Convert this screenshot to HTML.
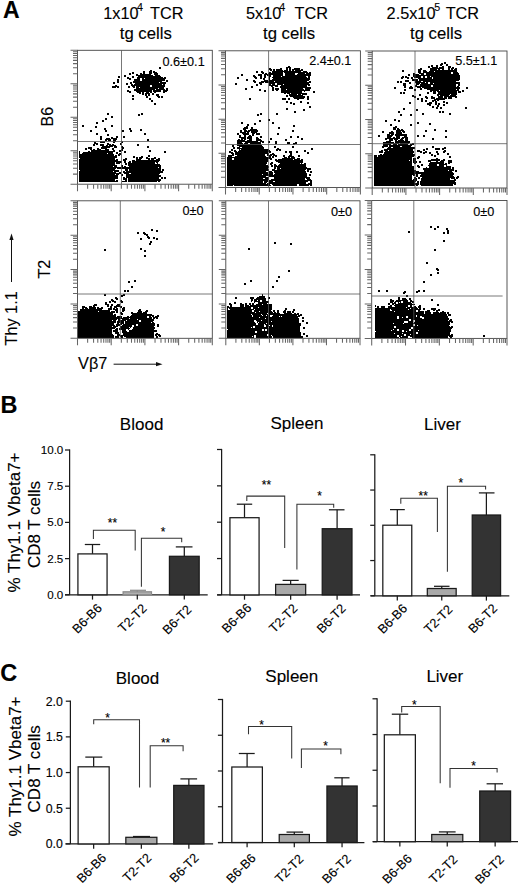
<!DOCTYPE html>
<html><head><meta charset="utf-8"><style>
html,body{margin:0;padding:0;background:#fff;width:520px;height:886px;overflow:hidden}
svg{display:block}
text{font-family:"Liberation Sans", sans-serif;stroke:#000;stroke-width:0.12px}
</style></head><body>
<svg width="520" height="886" viewBox="0 0 520 886">
<rect width="520" height="886" fill="#fff"/>
<text transform="translate(2.90,17.60)" font-size="23" text-anchor="start" font-weight="bold" fill="#000" >A</text>
<text transform="translate(103.18,18.90)" font-size="16.3" text-anchor="start" font-weight="normal" fill="#000" >1x10</text>
<text transform="translate(136.89,11.40)" font-size="10.7" text-anchor="start" font-weight="normal" fill="#000" >4</text>
<text transform="translate(150.07,18.90)" font-size="16.3" text-anchor="start" font-weight="normal" fill="#000" >TCR</text>
<text transform="translate(119.75,39.40)" font-size="16.3" text-anchor="start" font-weight="normal" fill="#000" textLength="52" lengthAdjust="spacingAndGlyphs">tg cells</text>
<text transform="translate(246.05,18.90)" font-size="16.3" text-anchor="start" font-weight="normal" fill="#000" >5x10</text>
<text transform="translate(279.19,11.40)" font-size="10.7" text-anchor="start" font-weight="normal" fill="#000" >4</text>
<text transform="translate(294.47,18.90)" font-size="16.3" text-anchor="start" font-weight="normal" fill="#000" >TCR</text>
<text transform="translate(263.00,39.40)" font-size="16.3" text-anchor="start" font-weight="normal" fill="#000" textLength="52" lengthAdjust="spacingAndGlyphs">tg cells</text>
<text transform="translate(386.58,18.90)" font-size="16.3" text-anchor="start" font-weight="normal" fill="#000" >2.5x10</text>
<text transform="translate(434.17,11.40)" font-size="10.7" text-anchor="start" font-weight="normal" fill="#000" >5</text>
<text transform="translate(445.67,18.90)" font-size="16.3" text-anchor="start" font-weight="normal" fill="#000" >TCR</text>
<text transform="translate(410.00,39.40)" font-size="16.3" text-anchor="start" font-weight="normal" fill="#000" textLength="52" lengthAdjust="spacingAndGlyphs">tg cells</text>
<text transform="translate(53.40,116.70) rotate(-90)" font-size="15.9" text-anchor="middle" font-weight="normal" fill="#000" >B6</text>
<text transform="translate(49.60,269.10) rotate(-90)" font-size="16.3" text-anchor="middle" font-weight="normal" fill="#000" >T2</text>
<text transform="translate(17.00,318.40) rotate(-90)" font-size="16.3" text-anchor="middle" font-weight="normal" fill="#000" >Thy 1.1</text>
<line x1="11.50" y1="282.00" x2="11.50" y2="239.00" stroke="#111" stroke-width="1.0"/>
<path d="M11.5,233.6 L9.4,240 L13.6,240 Z" fill="#111"/>
<text transform="translate(78.10,368.50)" font-size="16.3" text-anchor="start" font-weight="normal" fill="#000" >V&#946;7</text>
<line x1="113.60" y1="364.20" x2="157.00" y2="364.20" stroke="#111" stroke-width="1.0"/>
<path d="M162.5,364.2 L156,362.1 L156,366.3 Z" fill="#111"/>
<path d="M159 67h2v2h-2zM150 70h2v1h-2zM153 71h2v1h-2zM153 72h4v1h-4zM132 72h2v2h-2zM140 73h2v1h-2zM143 71h2v3h-2zM149 71h3v3h-3zM129 73h2v2h-2zM136 74h2v1h-2zM140 74h11v1h-11zM154 73h4v2h-4zM136 75h17v1h-17zM155 75h5v1h-5zM124 75h2v2h-2zM138 76h23v1h-23zM118 76h2v2h-2zM127 77h2v1h-2zM132 76h2v2h-2zM137 77h26v1h-26zM164 77h2v1h-2zM127 78h4v1h-4zM137 78h3v1h-3zM142 78h2v1h-2zM145 78h21v1h-21zM129 79h2v1h-2zM134 79h6v2h-6zM142 79h23v2h-23zM133 81h29v1h-29zM166 80h2v2h-2zM117 79h2v4h-2zM133 82h26v1h-26zM160 82h6v1h-6zM113 82h2v2h-2zM130 82h2v2h-2zM135 83h31v1h-31zM126 83h2v2h-2zM131 84h2v1h-2zM134 84h28v1h-28zM163 84h2v1h-2zM115 85h2v1h-2zM131 85h19v1h-19zM112 86h7v1h-7zM132 86h3v1h-3zM136 86h14v1h-14zM152 85h13v2h-13zM112 87h4v1h-4zM117 87h2v1h-2zM128 86h2v2h-2zM133 87h2v1h-2zM136 87h3v1h-3zM140 87h24v1h-24zM136 88h22v1h-22zM159 88h5v1h-5zM134 89h21v1h-21zM156 89h9v1h-9zM166 88h2v2h-2zM127 90h2v1h-2zM134 90h18v1h-18zM163 90h5v1h-5zM127 91h4v1h-4zM136 91h16v1h-16zM153 90h8v2h-8zM163 91h4v1h-4zM129 92h2v1h-2zM137 92h4v1h-4zM146 92h3v1h-3zM150 92h2v1h-2zM154 92h2v1h-2zM163 92h2v1h-2zM139 93h2v1h-2zM145 93h5v1h-5zM142 92h2v3h-2zM152 93h2v2h-2zM145 94h2v2h-2zM148 94h2v2h-2zM156 94h3v2h-3zM132 95h2v2h-2zM157 96h3v1h-3zM146 96h2v2h-2zM158 97h2v1h-2zM161 96h2v2h-2zM132 98h2v2h-2zM149 98h2v2h-2zM151 100h2v2h-2zM154 103h2v2h-2zM107 113h2v2h-2zM141 113h2v2h-2zM138 114h2v2h-2zM111 116h2v2h-2zM105 118h2v2h-2zM102 120h2v2h-2zM96 122h2v2h-2zM82 125h2v2h-2zM111 125h2v2h-2zM95 126h2v2h-2zM104 128h2v2h-2zM129 128h2v2h-2zM140 129h2v2h-2zM90 130h2v2h-2zM105 130h2v2h-2zM122 130h2v2h-2zM130 130h2v2h-2zM96 133h2v2h-2zM144 133h2v2h-2zM107 134h2v2h-2zM111 137h2v1h-2zM116 136h2v2h-2zM123 136h2v2h-2zM106 138h4v1h-4zM111 138h6v1h-6zM100 136h2v4h-2zM105 139h6v1h-6zM113 139h4v1h-4zM105 140h2v1h-2zM108 140h3v1h-3zM147 139h2v2h-2zM113 140h3v2h-3zM94 142h2v1h-2zM100 141h5v2h-5zM113 142h2v1h-2zM121 141h2v2h-2zM94 143h4v1h-4zM107 143h2v1h-2zM96 144h2v1h-2zM107 144h4v1h-4zM112 144h2v1h-2zM120 143h2v2h-2zM93 144h2v2h-2zM100 144h4v2h-4zM106 145h2v1h-2zM109 145h7v1h-7zM137 144h2v2h-2zM102 146h11v1h-11zM121 146h2v1h-2zM101 147h9v1h-9zM114 146h3v2h-3zM121 147h3v1h-3zM147 146h2v2h-2zM88 147h4v2h-4zM97 148h2v1h-2zM101 148h6v1h-6zM122 148h2v1h-2zM85 148h2v2h-2zM90 149h2v1h-2zM93 149h2v1h-2zM97 149h4v1h-4zM105 149h4v1h-4zM112 148h2v2h-2zM121 149h2v1h-2zM91 150h18v1h-18zM113 150h2v1h-2zM119 150h4v1h-4zM88 151h2v1h-2zM91 151h24v1h-24zM119 151h2v1h-2zM149 150h2v2h-2zM83 152h30v1h-30zM124 151h2v2h-2zM164 151h2v2h-2zM79 151h1v3h-1zM82 153h25v1h-25zM108 153h5v1h-5zM116 152h2v2h-2zM119 153h2v1h-2zM118 154h3v1h-3zM79 154h35v2h-35zM115 155h2v1h-2zM118 155h2v1h-2zM141 156h2v1h-2zM148 155h2v2h-2zM79 156h38v2h-38zM133 156h2v2h-2zM139 157h4v1h-4zM146 157h2v1h-2zM154 157h2v1h-2zM80 158h35v1h-35zM125 158h2v1h-2zM136 157h2v2h-2zM139 158h3v1h-3zM146 158h4v1h-4zM151 158h5v1h-5zM158 158h2v1h-2zM79 159h36v1h-36zM116 159h2v1h-2zM123 159h4v1h-4zM136 159h5v1h-5zM148 159h2v1h-2zM151 159h3v1h-3zM156 159h4v1h-4zM79 160h39v1h-39zM123 160h3v1h-3zM132 160h3v1h-3zM136 160h24v1h-24zM79 161h43v1h-43zM129 161h2v1h-2zM132 161h27v1h-27zM116 162h6v1h-6zM124 161h2v2h-2zM128 162h3v1h-3zM132 162h23v1h-23zM156 162h2v1h-2zM116 163h4v1h-4zM128 163h27v1h-27zM157 163h1v1h-1zM79 162h36v3h-36zM125 163h2v2h-2zM128 164h32v1h-32zM79 165h38v1h-38zM128 165h33v1h-33zM79 166h34v1h-34zM114 166h3v1h-3zM121 165h2v2h-2zM124 166h2v1h-2zM129 166h32v1h-32zM79 167h79v1h-79zM159 167h2v1h-2zM79 168h37v1h-37zM117 168h44v1h-44zM79 169h36v1h-36zM80 170h39v1h-39zM125 169h3v2h-3zM129 169h32v2h-32zM162 169h2v2h-2zM79 171h34v1h-34zM114 171h5v1h-5zM123 171h2v1h-2zM126 171h37v1h-37zM79 172h37v1h-37zM119 172h2v1h-2zM123 172h40v1h-40zM79 173h42v1h-42zM124 173h5v1h-5zM131 173h29v1h-29zM79 174h36v1h-36zM116 174h3v1h-3zM126 174h33v1h-33zM121 174h2v2h-2zM126 175h35v2h-35zM123 177h2v1h-2zM126 177h33v1h-33zM79 175h39v4h-39zM128 178h31v1h-31zM161 177h2v2h-2zM164 177h2v2h-2zM123 178h4v2h-4zM79 179h36v2h-36zM116 180h2v1h-2zM125 180h2v1h-2zM128 179h33v2h-33zM79 181h39v1h-39zM122 181h5v1h-5zM128 181h29v1h-29zM158 181h2v1h-2z" fill="#000"/>
<rect x="77.50" y="50.30" width="134.80" height="133.90" fill="none" stroke="#444" stroke-width="0.9"/>
<path d="M70.50,184.20H77.50M73.00,174.12H77.50M73.00,168.23H77.50M73.00,164.05H77.50M73.00,160.80H77.50M73.00,158.15H77.50M73.00,155.91H77.50M73.00,153.97H77.50M73.00,152.26H77.50M70.50,150.72H77.50M73.00,140.65H77.50M73.00,134.75H77.50M73.00,130.57H77.50M73.00,127.33H77.50M73.00,124.68H77.50M73.00,122.44H77.50M73.00,120.49H77.50M73.00,118.78H77.50M70.50,117.25H77.50M73.00,107.17H77.50M73.00,101.28H77.50M73.00,97.10H77.50M73.00,93.85H77.50M73.00,91.20H77.50M73.00,88.96H77.50M73.00,87.02H77.50M73.00,85.31H77.50M70.50,83.78H77.50M73.00,73.70H77.50M73.00,67.80H77.50M73.00,63.62H77.50M73.00,60.38H77.50M73.00,57.73H77.50M73.00,55.49H77.50M73.00,53.54H77.50M73.00,51.83H77.50M70.50,50.30H77.50M77.50,184.20V191.20M87.64,184.20V188.70M93.58,184.20V188.70M97.79,184.20V188.70M101.06,184.20V188.70M103.72,184.20V188.70M105.98,184.20V188.70M107.93,184.20V188.70M109.66,184.20V188.70M111.20,184.20V191.20M121.34,184.20V188.70M127.28,184.20V188.70M131.49,184.20V188.70M134.76,184.20V188.70M137.42,184.20V188.70M139.68,184.20V188.70M141.63,184.20V188.70M143.36,184.20V188.70M144.90,184.20V191.20M155.04,184.20V188.70M160.98,184.20V188.70M165.19,184.20V188.70M168.46,184.20V188.70M171.12,184.20V188.70M173.38,184.20V188.70M175.33,184.20V188.70M177.06,184.20V188.70M178.60,184.20V191.20M188.74,184.20V188.70M194.68,184.20V188.70M198.89,184.20V188.70M202.16,184.20V188.70M204.82,184.20V188.70M207.08,184.20V188.70M209.03,184.20V188.70M210.76,184.20V188.70M212.30,184.20V191.20" stroke="#666" stroke-width="1.05" fill="none"/>
<line x1="121.50" y1="50.30" x2="121.50" y2="184.20" stroke="#555" stroke-width="0.8"/>
<line x1="77.50" y1="141.50" x2="212.30" y2="141.50" stroke="#555" stroke-width="0.8"/>
<text transform="translate(204.71,65.50)" font-size="12.7" text-anchor="end" font-weight="normal" fill="#000" >0.6&#177;0.1</text>
<path d="M288 66h2v1h-2zM286 67h5v1h-5zM269 68h2v1h-2zM280 68h2v1h-2zM294 68h6v1h-6zM269 69h3v1h-3zM276 69h6v1h-6zM286 68h2v2h-2zM292 69h8v1h-8zM301 69h2v1h-2zM270 70h2v1h-2zM273 69h2v2h-2zM276 70h7v1h-7zM284 70h4v1h-4zM289 68h2v3h-2zM292 70h2v1h-2zM295 70h8v1h-8zM261 71h2v1h-2zM272 71h29v1h-29zM303 71h4v1h-4zM256 71h2v2h-2zM261 72h3v1h-3zM269 72h2v1h-2zM272 72h11v1h-11zM284 72h24v1h-24zM309 72h2v1h-2zM262 73h2v1h-2zM265 73h2v1h-2zM268 73h15v1h-15zM298 73h7v1h-7zM306 73h5v1h-5zM264 74h19v1h-19zM285 73h10v2h-10zM297 74h14v1h-14zM241 74h2v2h-2zM253 75h2v1h-2zM258 74h4v2h-4zM267 75h4v1h-4zM273 75h10v1h-10zM285 75h26v1h-26zM253 76h3v1h-3zM269 76h2v1h-2zM273 76h8v1h-8zM282 76h24v1h-24zM254 77h3v1h-3zM264 75h2v3h-2zM272 77h35v1h-35zM308 76h2v2h-2zM237 77h2v2h-2zM255 78h2v1h-2zM260 76h2v3h-2zM273 78h37v1h-37zM263 78h2v2h-2zM269 77h1v3h-1zM272 79h38v1h-38zM246 79h2v2h-2zM253 80h2v1h-2zM264 80h4v1h-4zM269 80h40v1h-40zM253 81h3v1h-3zM261 81h13v1h-13zM275 81h32v1h-32zM309 81h2v1h-2zM254 82h2v1h-2zM259 82h5v1h-5zM265 82h46v1h-46zM259 83h3v1h-3zM269 83h6v1h-6zM277 83h32v1h-32zM235 83h2v2h-2zM260 84h2v1h-2zM269 84h2v1h-2zM272 84h3v1h-3zM277 84h6v1h-6zM284 84h26v1h-26zM256 84h2v2h-2zM269 85h9v1h-9zM281 85h26v1h-26zM308 85h2v1h-2zM271 86h2v1h-2zM275 86h3v1h-3zM280 86h27v1h-27zM251 86h2v2h-2zM280 87h31v1h-31zM281 88h22v1h-22zM305 88h6v1h-6zM245 88h2v2h-2zM275 88h4v2h-4zM281 89h5v1h-5zM287 89h17v1h-17zM305 89h5v1h-5zM259 89h2v2h-2zM272 87h2v4h-2zM276 90h2v1h-2zM281 90h29v1h-29zM264 90h2v2h-2zM304 91h1v1h-1zM281 91h21v2h-21zM313 91h2v2h-2zM284 93h2v1h-2zM287 93h3v1h-3zM291 93h16v1h-16zM289 94h8v1h-8zM298 94h3v1h-3zM302 94h5v1h-5zM289 95h14v1h-14zM286 95h2v2h-2zM290 96h15v1h-15zM293 97h12v1h-12zM294 98h10v1h-10zM249 98h2v2h-2zM282 98h4v2h-4zM288 98h2v2h-2zM297 99h2v1h-2zM307 96h2v4h-2zM286 101h2v2h-2zM300 101h2v2h-2zM290 102h2v2h-2zM307 102h2v2h-2zM293 103h2v2h-2zM309 106h2v2h-2zM286 108h2v2h-2zM303 109h2v2h-2zM294 111h2v2h-2zM260 113h2v2h-2zM276 113h2v2h-2zM257 114h2v2h-2zM268 119h2v2h-2zM259 120h2v2h-2zM241 122h2v2h-2zM272 122h2v2h-2zM254 123h2v2h-2zM247 124h2v2h-2zM246 126h2v1h-2zM293 125h2v2h-2zM244 127h4v1h-4zM243 128h5v1h-5zM251 127h2v2h-2zM278 127h2v2h-2zM243 129h3v1h-3zM250 129h7v1h-7zM244 130h3v1h-3zM248 130h10v1h-10zM240 130h2v2h-2zM244 131h6v1h-6zM251 131h7v1h-7zM292 130h2v2h-2zM240 132h6v1h-6zM247 132h2v1h-2zM251 132h6v1h-6zM242 133h7v1h-7zM252 133h3v1h-3zM237 133h2v2h-2zM243 134h6v1h-6zM256 133h4v2h-4zM277 133h2v2h-2zM249 135h2v1h-2zM252 134h2v2h-2zM239 135h2v2h-2zM244 135h2v2h-2zM248 136h4v1h-4zM239 137h7v1h-7zM256 137h2v1h-2zM260 136h2v2h-2zM290 136h2v2h-2zM297 136h2v2h-2zM241 138h5v1h-5zM247 137h5v2h-5zM256 138h3v1h-3zM238 139h2v1h-2zM241 139h2v1h-2zM244 139h2v1h-2zM249 139h3v1h-3zM256 139h5v1h-5zM270 138h2v2h-2zM301 138h2v2h-2zM237 140h8v1h-8zM247 140h5v1h-5zM256 140h6v1h-6zM285 139h2v2h-2zM237 141h21v1h-21zM260 141h4v1h-4zM237 142h5v1h-5zM245 142h16v1h-16zM262 142h2v1h-2zM268 141h2v2h-2zM295 142h2v1h-2zM237 143h6v1h-6zM244 143h4v1h-4zM250 143h11v1h-11zM275 141h2v3h-2zM287 142h3v2h-3zM293 143h4v1h-4zM237 144h24v1h-24zM293 144h2v1h-2zM237 145h25v1h-25zM232 145h2v2h-2zM239 146h24v1h-24zM237 147h3v1h-3zM242 147h22v1h-22zM274 146h2v2h-2zM292 146h2v2h-2zM233 147h2v2h-2zM237 148h27v1h-27zM277 148h2v1h-2zM239 149h1v1h-1zM241 149h28v1h-28zM276 149h5v1h-5zM311 148h2v2h-2zM231 149h2v2h-2zM234 150h2v1h-2zM239 150h31v1h-31zM276 150h2v1h-2zM279 150h2v1h-2zM229 151h2v1h-2zM234 151h3v1h-3zM238 151h33v1h-33zM304 150h2v2h-2zM229 152h4v1h-4zM235 152h33v1h-33zM269 152h2v1h-2zM285 151h2v2h-2zM289 151h3v2h-3zM296 151h2v2h-2zM231 153h3v1h-3zM235 153h34v1h-34zM272 153h2v1h-2zM307 152h2v2h-2zM232 154h2v1h-2zM235 154h30v1h-30zM267 154h2v1h-2zM270 154h5v1h-5zM290 153h2v2h-2zM228 155h6v1h-6zM237 155h28v1h-28zM267 155h5v1h-5zM273 155h4v1h-4zM289 155h3v1h-3zM228 156h4v1h-4zM235 156h31v1h-31zM269 156h2v1h-2zM275 156h2v1h-2zM283 155h2v2h-2zM288 156h6v1h-6zM298 155h2v2h-2zM227 157h44v1h-44zM272 156h2v2h-2zM284 157h3v1h-3zM288 157h2v1h-2zM291 157h4v1h-4zM234 158h38v1h-38zM282 158h13v1h-13zM297 158h3v1h-3zM227 158h5v2h-5zM234 159h34v1h-34zM270 159h2v1h-2zM275 159h2v1h-2zM278 159h15v1h-15zM294 159h6v1h-6zM301 159h2v1h-2zM275 160h28v1h-28zM227 160h41v2h-41zM276 161h27v1h-27zM271 162h2v1h-2zM278 162h25v1h-25zM227 162h40v2h-40zM270 163h3v1h-3zM280 163h20v1h-20zM301 163h1v1h-1zM304 163h2v1h-2zM227 164h39v1h-39zM270 164h2v1h-2zM274 164h2v1h-2zM279 164h27v1h-27zM227 165h41v1h-41zM274 165h3v1h-3zM278 165h28v1h-28zM271 165h2v2h-2zM274 166h32v1h-32zM227 166h42v2h-42zM277 167h30v1h-30zM227 168h41v1h-41zM274 167h2v2h-2zM277 168h3v1h-3zM281 168h30v1h-30zM272 169h3v1h-3zM277 169h29v1h-29zM307 169h4v1h-4zM227 169h42v2h-42zM272 170h33v1h-33zM227 171h39v1h-39zM269 171h3v1h-3zM307 170h2v2h-2zM274 171h32v2h-32zM310 171h2v2h-2zM227 172h41v2h-41zM269 172h4v2h-4zM275 173h32v1h-32zM227 174h35v1h-35zM263 174h10v1h-10zM274 174h33v1h-33zM227 175h80v1h-80zM309 174h2v2h-2zM227 176h39v1h-39zM269 176h38v1h-38zM227 177h42v1h-42zM274 177h36v1h-36zM227 178h36v1h-36zM265 178h4v1h-4zM274 178h31v1h-31zM306 178h4v1h-4zM227 179h42v1h-42zM271 179h34v1h-34zM307 179h4v1h-4zM227 180h41v1h-41zM269 180h43v1h-43zM264 181h4v1h-4zM269 181h4v1h-4zM275 181h33v1h-33zM227 181h36v2h-36zM264 182h3v1h-3zM269 182h37v1h-37zM310 181h2v2h-2zM227 183h39v1h-39zM267 183h39v1h-39zM308 183h4v1h-4zM227 184h43v1h-43zM272 184h25v1h-25zM299 184h13v1h-13zM227 185h6v1h-6zM234 185h37v1h-37zM273 185h24v1h-24zM299 185h10v1h-10zM310 185h2v1h-2z" fill="#000"/>
<rect x="225.50" y="50.80" width="134.90" height="136.70" fill="none" stroke="#444" stroke-width="0.9"/>
<path d="M218.50,187.50H225.50M221.00,177.21H225.50M221.00,171.19H225.50M221.00,166.92H225.50M221.00,163.61H225.50M221.00,160.91H225.50M221.00,158.62H225.50M221.00,156.64H225.50M221.00,154.89H225.50M218.50,153.32H225.50M221.00,143.04H225.50M221.00,137.02H225.50M221.00,132.75H225.50M221.00,129.44H225.50M221.00,126.73H225.50M221.00,124.44H225.50M221.00,122.46H225.50M221.00,120.71H225.50M218.50,119.15H225.50M221.00,108.86H225.50M221.00,102.84H225.50M221.00,98.57H225.50M221.00,95.26H225.50M221.00,92.56H225.50M221.00,90.27H225.50M221.00,88.29H225.50M221.00,86.54H225.50M218.50,84.98H225.50M221.00,74.69H225.50M221.00,68.67H225.50M221.00,64.40H225.50M221.00,61.09H225.50M221.00,58.38H225.50M221.00,56.09H225.50M221.00,54.11H225.50M221.00,52.36H225.50M218.50,50.80H225.50M225.50,187.50V194.50M235.65,187.50V192.00M241.59,187.50V192.00M245.80,187.50V192.00M249.07,187.50V192.00M251.74,187.50V192.00M254.00,187.50V192.00M255.96,187.50V192.00M257.68,187.50V192.00M259.23,187.50V194.50M269.38,187.50V192.00M275.32,187.50V192.00M279.53,187.50V192.00M282.80,187.50V192.00M285.47,187.50V192.00M287.73,187.50V192.00M289.68,187.50V192.00M291.41,187.50V192.00M292.95,187.50V194.50M303.10,187.50V192.00M309.04,187.50V192.00M313.25,187.50V192.00M316.52,187.50V192.00M319.19,187.50V192.00M321.45,187.50V192.00M323.41,187.50V192.00M325.13,187.50V192.00M326.67,187.50V194.50M336.83,187.50V192.00M342.77,187.50V192.00M346.98,187.50V192.00M350.25,187.50V192.00M352.92,187.50V192.00M355.18,187.50V192.00M357.13,187.50V192.00M358.86,187.50V192.00M360.40,187.50V194.50" stroke="#666" stroke-width="1.05" fill="none"/>
<line x1="268.60" y1="50.80" x2="268.60" y2="187.50" stroke="#555" stroke-width="0.8"/>
<line x1="225.50" y1="144.50" x2="360.40" y2="144.50" stroke="#555" stroke-width="0.8"/>
<text transform="translate(351.41,65.20)" font-size="12.7" text-anchor="end" font-weight="normal" fill="#000" >2.4&#177;0.1</text>
<path d="M441 63h2v1h-2zM444 62h2v2h-2zM440 64h3v1h-3zM440 65h2v1h-2zM446 64h2v2h-2zM431 65h2v2h-2zM436 65h2v2h-2zM442 66h2v1h-2zM428 66h2v2h-2zM432 67h6v1h-6zM439 67h5v1h-5zM448 66h3v2h-3zM452 67h2v1h-2zM420 68h2v1h-2zM430 68h14v1h-14zM451 68h3v1h-3zM455 68h2v1h-2zM418 69h4v1h-4zM430 69h7v1h-7zM438 69h2v1h-2zM442 69h2v1h-2zM448 68h2v2h-2zM451 69h2v1h-2zM454 69h3v1h-3zM423 70h3v1h-3zM430 70h27v1h-27zM402 70h2v2h-2zM423 71h4v1h-4zM429 71h5v1h-5zM435 71h22v1h-22zM418 70h3v3h-3zM423 72h28v1h-28zM453 72h5v1h-5zM413 73h2v1h-2zM419 73h5v1h-5zM426 73h25v1h-25zM453 73h6v1h-6zM413 74h6v1h-6zM421 74h3v1h-3zM426 74h33v1h-33zM408 74h2v2h-2zM413 75h47v1h-47zM402 76h2v1h-2zM405 76h2v1h-2zM413 76h8v1h-8zM427 76h3v1h-3zM431 76h29v1h-29zM401 77h3v1h-3zM405 77h4v1h-4zM414 77h7v1h-7zM423 76h2v2h-2zM427 77h5v1h-5zM401 78h2v1h-2zM407 78h2v1h-2zM411 77h2v2h-2zM418 78h14v1h-14zM433 77h27v2h-27zM419 79h41v1h-41zM412 79h6v2h-6zM419 80h40v1h-40zM405 80h4v2h-4zM415 81h6v1h-6zM423 81h33v1h-33zM397 81h2v2h-2zM400 81h2v2h-2zM415 82h10v1h-10zM426 82h2v1h-2zM430 82h30v1h-30zM409 82h2v2h-2zM416 83h4v1h-4zM421 83h7v1h-7zM430 83h3v1h-3zM434 83h26v1h-26zM416 84h3v1h-3zM420 84h36v1h-36zM403 83h3v3h-3zM415 85h2v1h-2zM420 85h11v1h-11zM458 84h2v2h-2zM410 86h2v1h-2zM415 86h16v1h-16zM433 85h23v2h-23zM457 86h2v1h-2zM404 86h2v2h-2zM417 87h4v1h-4zM422 87h38v1h-38zM394 87h2v2h-2zM409 87h4v2h-4zM424 88h36v1h-36zM466 87h2v2h-2zM420 88h2v2h-2zM427 89h29v1h-29zM457 89h2v1h-2zM404 89h2v2h-2zM414 89h2v2h-2zM430 90h9v1h-9zM440 90h19v1h-19zM430 91h2v1h-2zM437 91h20v1h-20zM462 90h2v2h-2zM458 91h3v2h-3zM400 92h2v2h-2zM403 92h2v2h-2zM427 92h2v2h-2zM433 91h3v3h-3zM438 92h19v2h-19zM437 94h13v1h-13zM451 94h6v1h-6zM412 95h2v1h-2zM419 94h2v2h-2zM437 95h2v1h-2zM440 95h9v1h-9zM450 95h6v1h-6zM412 96h4v1h-4zM425 96h2v1h-2zM431 96h2v1h-2zM444 96h13v1h-13zM414 97h2v1h-2zM425 97h3v1h-3zM438 96h5v2h-5zM444 97h3v1h-3zM455 97h2v1h-2zM426 98h2v1h-2zM431 97h4v2h-4zM436 98h11v1h-11zM448 97h4v2h-4zM417 98h2v2h-2zM434 99h11v1h-11zM432 100h4v1h-4zM437 100h2v1h-2zM421 98h2v4h-2zM425 100h2v2h-2zM432 101h2v1h-2zM429 102h3v1h-3zM443 101h2v2h-2zM409 102h2v2h-2zM427 103h5v1h-5zM446 102h2v2h-2zM427 104h4v1h-4zM435 101h2v4h-2zM438 103h2v2h-2zM429 105h2v1h-2zM443 104h2v2h-2zM437 105h2v2h-2zM432 106h2v2h-2zM436 107h2v2h-2zM440 107h2v2h-2zM465 107h2v2h-2zM403 108h2v2h-2zM416 109h2v2h-2zM398 111h2v2h-2zM439 111h2v2h-2zM442 111h2v2h-2zM422 113h2v2h-2zM449 113h2v2h-2zM400 114h2v2h-2zM410 114h2v2h-2zM394 119h2v2h-2zM385 120h2v2h-2zM398 120h2v2h-2zM417 122h2v2h-2zM429 123h2v2h-2zM390 124h2v2h-2zM410 124h2v2h-2zM395 126h2v1h-2zM393 127h4v1h-4zM397 128h2v1h-2zM393 128h3v2h-3zM397 129h3v1h-3zM401 129h2v1h-2zM396 130h8v1h-8zM434 129h2v2h-2zM391 131h2v1h-2zM396 131h5v1h-5zM402 131h3v1h-3zM425 130h2v2h-2zM445 130h2v2h-2zM382 131h2v2h-2zM403 132h2v1h-2zM389 132h5v2h-5zM396 132h6v2h-6zM387 134h3v1h-3zM391 134h3v1h-3zM387 135h6v1h-6zM395 134h12v2h-12zM378 135h2v2h-2zM387 136h5v1h-5zM404 136h3v1h-3zM417 135h2v2h-2zM423 135h2v2h-2zM387 137h4v1h-4zM393 137h2v1h-2zM396 136h4v2h-4zM402 137h6v1h-6zM445 136h2v2h-2zM385 138h15v1h-15zM401 138h3v1h-3zM385 139h2v1h-2zM394 139h4v1h-4zM400 139h3v1h-3zM432 138h2v2h-2zM389 139h4v2h-4zM395 140h2v1h-2zM398 140h6v1h-6zM405 138h3v3h-3zM386 141h5v1h-5zM383 142h11v1h-11zM395 141h15v2h-15zM383 143h16v1h-16zM400 143h9v1h-9zM412 143h2v1h-2zM383 144h8v1h-8zM393 144h4v1h-4zM398 144h10v1h-10zM410 144h4v1h-4zM383 145h5v1h-5zM389 145h23v1h-23zM382 146h6v1h-6zM389 146h11v1h-11zM402 146h9v1h-9zM382 147h2v1h-2zM388 147h3v1h-3zM393 147h22v1h-22zM432 146h2v2h-2zM444 147h2v1h-2zM387 148h28v1h-28zM442 148h4v1h-4zM384 149h29v1h-29zM426 148h2v2h-2zM435 148h5v2h-5zM442 149h2v1h-2zM381 150h2v1h-2zM384 150h4v1h-4zM389 150h24v1h-24zM417 150h3v1h-3zM423 149h2v2h-2zM444 150h2v1h-2zM385 151h29v1h-29zM417 151h5v1h-5zM425 151h2v1h-2zM443 151h3v1h-3zM379 151h4v2h-4zM384 152h30v1h-30zM420 152h2v1h-2zM423 152h4v1h-4zM436 151h2v2h-2zM443 152h2v1h-2zM384 153h29v1h-29zM423 153h2v1h-2zM429 152h2v2h-2zM380 154h2v1h-2zM383 154h32v1h-32zM437 153h2v2h-2zM447 153h2v2h-2zM378 155h37v1h-37zM431 154h2v2h-2zM374 155h3v2h-3zM378 156h36v1h-36zM418 156h2v1h-2zM434 155h2v2h-2zM417 157h3v1h-3zM449 156h2v2h-2zM417 158h2v1h-2zM436 158h2v1h-2zM374 157h38v3h-38zM431 159h9v1h-9zM443 159h2v1h-2zM374 160h35v1h-35zM410 160h2v1h-2zM413 158h3v3h-3zM428 160h12v1h-12zM441 160h4v1h-4zM428 161h3v1h-3zM436 161h2v1h-2zM440 161h4v1h-4zM413 161h4v2h-4zM419 161h2v2h-2zM430 162h14v1h-14zM448 160h4v3h-4zM414 163h2v1h-2zM429 163h15v1h-15zM445 163h2v1h-2zM448 163h2v1h-2zM429 164h8v1h-8zM439 164h8v1h-8zM374 161h38v5h-38zM417 165h2v1h-2zM421 164h2v2h-2zM428 165h9v1h-9zM439 165h5v1h-5zM446 165h1v1h-1zM417 166h3v1h-3zM429 166h15v1h-15zM446 166h5v1h-5zM418 167h2v1h-2zM426 167h1v1h-1zM429 167h22v1h-22zM423 168h28v1h-28zM452 167h2v2h-2zM374 166h40v4h-40zM423 169h31v1h-31zM374 170h42v1h-42zM424 170h24v1h-24zM449 170h5v1h-5zM374 171h45v1h-45zM424 171h28v1h-28zM455 170h2v2h-2zM374 172h79v1h-79zM374 173h80v1h-80zM374 174h41v1h-41zM421 174h33v1h-33zM413 175h2v1h-2zM420 175h33v1h-33zM416 174h2v3h-2zM420 176h34v1h-34zM457 176h2v1h-2zM414 177h2v1h-2zM422 177h33v1h-33zM456 177h3v1h-3zM414 178h3v1h-3zM418 177h2v2h-2zM451 178h4v1h-4zM456 178h2v1h-2zM374 175h38v5h-38zM413 179h4v1h-4zM421 178h29v2h-29zM454 179h2v1h-2zM374 180h43v1h-43zM421 180h35v1h-35zM374 181h42v1h-42zM420 181h35v1h-35zM374 182h41v1h-41zM417 181h2v2h-2zM420 182h36v2h-36zM374 183h45v2h-45zM420 184h33v1h-33zM454 184h2v1h-2zM374 185h41v1h-41zM416 185h2v1h-2zM421 185h32v1h-32z" fill="#000"/>
<rect x="372.20" y="51.00" width="134.80" height="137.00" fill="none" stroke="#444" stroke-width="0.9"/>
<path d="M365.20,188.00H372.20M367.70,177.69H372.20M367.70,171.66H372.20M367.70,167.38H372.20M367.70,164.06H372.20M367.70,161.35H372.20M367.70,159.06H372.20M367.70,157.07H372.20M367.70,155.32H372.20M365.20,153.75H372.20M367.70,143.44H372.20M367.70,137.41H372.20M367.70,133.13H372.20M367.70,129.81H372.20M367.70,127.10H372.20M367.70,124.81H372.20M367.70,122.82H372.20M367.70,121.07H372.20M365.20,119.50H372.20M367.70,109.19H372.20M367.70,103.16H372.20M367.70,98.88H372.20M367.70,95.56H372.20M367.70,92.85H372.20M367.70,90.56H372.20M367.70,88.57H372.20M367.70,86.82H372.20M365.20,85.25H372.20M367.70,74.94H372.20M367.70,68.91H372.20M367.70,64.63H372.20M367.70,61.31H372.20M367.70,58.60H372.20M367.70,56.31H372.20M367.70,54.32H372.20M367.70,52.57H372.20M365.20,51.00H372.20M372.20,188.00V195.00M382.34,188.00V192.50M388.28,188.00V192.50M392.49,188.00V192.50M395.76,188.00V192.50M398.42,188.00V192.50M400.68,188.00V192.50M402.63,188.00V192.50M404.36,188.00V192.50M405.90,188.00V195.00M416.04,188.00V192.50M421.98,188.00V192.50M426.19,188.00V192.50M429.46,188.00V192.50M432.12,188.00V192.50M434.38,188.00V192.50M436.33,188.00V192.50M438.06,188.00V192.50M439.60,188.00V195.00M449.74,188.00V192.50M455.68,188.00V192.50M459.89,188.00V192.50M463.16,188.00V192.50M465.82,188.00V192.50M468.08,188.00V192.50M470.03,188.00V192.50M471.76,188.00V192.50M473.30,188.00V195.00M483.44,188.00V192.50M489.38,188.00V192.50M493.59,188.00V192.50M496.86,188.00V192.50M499.52,188.00V192.50M501.78,188.00V192.50M503.73,188.00V192.50M505.46,188.00V192.50M507.00,188.00V195.00" stroke="#666" stroke-width="1.05" fill="none"/>
<line x1="415.00" y1="51.00" x2="415.00" y2="188.00" stroke="#555" stroke-width="0.8"/>
<line x1="372.20" y1="143.70" x2="507.00" y2="143.70" stroke="#555" stroke-width="0.8"/>
<text transform="translate(497.41,65.20)" font-size="12.7" text-anchor="end" font-weight="normal" fill="#000" >5.5&#177;1.1</text>
<path d="M151 229h2v2h-2zM156 230h2v2h-2zM143 232h2v1h-2zM137 232h2v2h-2zM143 233h3v1h-3zM144 234h4v1h-4zM146 235h2v1h-2zM147 236h2v1h-2zM147 237h3v1h-3zM148 238h2v1h-2zM153 237h2v2h-2zM140 238h2v2h-2zM156 238h2v2h-2zM150 241h2v2h-2zM149 243h2v2h-2zM140 248h2v2h-2zM104 249h2v2h-2zM144 250h2v2h-2zM144 255h2v2h-2zM134 280h2v2h-2zM128 281h2v2h-2zM131 286h2v2h-2zM124 290h2v2h-2zM127 290h2v2h-2zM123 294h2v1h-2zM104 294h2v2h-2zM121 295h4v1h-4zM121 296h2v1h-2zM115 297h2v1h-2zM115 298h3v1h-3zM111 299h2v1h-2zM116 299h2v1h-2zM111 300h3v1h-3zM120 300h2v1h-2zM112 301h4v1h-4zM120 301h3v1h-3zM109 301h2v2h-2zM114 302h2v1h-2zM121 302h2v1h-2zM105 302h2v2h-2zM94 304h3v1h-3zM105 304h4v1h-4zM117 304h3v1h-3zM93 305h4v1h-4zM111 304h2v2h-2zM116 305h4v1h-4zM82 306h3v1h-3zM89 306h3v1h-3zM93 306h2v1h-2zM107 305h2v2h-2zM114 306h8v1h-8zM82 307h5v1h-5zM97 307h2v1h-2zM101 307h2v1h-2zM110 306h2v2h-2zM114 307h3v1h-3zM120 307h2v1h-2zM123 307h2v1h-2zM82 308h2v1h-2zM85 308h3v1h-3zM89 307h7v2h-7zM97 308h6v1h-6zM113 308h2v1h-2zM116 308h2v1h-2zM80 309h22v1h-22zM108 308h4v2h-4zM113 309h5v1h-5zM139 309h2v1h-2zM80 310h30v1h-30zM115 310h3v1h-3zM122 308h3v3h-3zM138 310h3v1h-3zM146 310h2v1h-2zM78 311h20v1h-20zM99 311h11v1h-11zM111 311h4v1h-4zM122 311h2v1h-2zM138 311h4v1h-4zM145 311h3v1h-3zM78 312h37v1h-37zM116 311h2v2h-2zM120 312h2v1h-2zM131 312h2v1h-2zM137 312h5v1h-5zM143 312h4v1h-4zM120 313h3v1h-3zM131 313h16v1h-16zM78 313h35v2h-35zM114 314h2v1h-2zM121 314h2v1h-2zM132 314h20v1h-20zM131 315h23v1h-23zM157 315h2v1h-2zM78 315h38v2h-38zM117 316h5v1h-5zM127 316h2v1h-2zM130 316h17v1h-17zM149 316h2v1h-2zM152 316h2v1h-2zM155 316h4v1h-4zM78 317h44v1h-44zM123 317h24v1h-24zM149 317h3v1h-3zM153 317h5v1h-5zM78 318h51v1h-51zM130 318h22v1h-22zM153 318h2v1h-2zM156 318h2v1h-2zM78 319h39v1h-39zM118 319h2v1h-2zM122 319h15v1h-15zM138 319h16v1h-16zM78 320h34v1h-34zM113 320h3v1h-3zM118 320h8v1h-8zM127 320h12v1h-12zM141 320h13v1h-13zM125 321h14v1h-14zM141 321h12v1h-12zM78 321h38v2h-38zM117 321h7v2h-7zM125 322h26v1h-26zM152 322h2v1h-2zM117 323h2v1h-2zM120 323h4v1h-4zM125 323h30v1h-30zM78 323h36v2h-36zM116 324h6v1h-6zM123 324h13v1h-13zM78 325h37v1h-37zM116 325h4v1h-4zM122 325h10v1h-10zM134 325h2v1h-2zM138 324h17v2h-17zM78 326h34v1h-34zM113 326h5v1h-5zM120 326h12v1h-12zM134 326h20v1h-20zM157 324h2v3h-2zM78 327h38v1h-38zM120 327h9v1h-9zM130 327h1v1h-1zM78 328h37v1h-37zM116 328h2v1h-2zM119 328h11v1h-11zM133 327h22v2h-22zM115 329h3v1h-3zM119 329h7v1h-7zM128 329h1v1h-1zM132 329h22v1h-22zM122 330h4v1h-4zM113 330h5v2h-5zM122 331h5v1h-5zM129 330h28v2h-28zM122 332h32v1h-32zM78 329h34v5h-34zM115 332h4v2h-4zM156 333h2v1h-2zM78 334h35v1h-35zM117 334h3v1h-3zM123 333h31v2h-31zM155 334h5v1h-5zM117 335h37v1h-37zM155 335h2v1h-2zM158 335h3v1h-3zM120 336h3v1h-3zM124 336h30v1h-30zM159 336h2v1h-2zM78 335h36v3h-36zM115 336h4v2h-4zM121 337h2v1h-2zM126 337h28v1h-28zM156 336h2v2h-2z" fill="#000"/>
<rect x="77.50" y="200.80" width="134.80" height="137.50" fill="none" stroke="#444" stroke-width="0.9"/>
<path d="M70.50,338.30H77.50M73.00,327.95H77.50M73.00,321.90H77.50M73.00,317.60H77.50M73.00,314.27H77.50M73.00,311.55H77.50M73.00,309.25H77.50M73.00,307.26H77.50M73.00,305.50H77.50M70.50,303.93H77.50M73.00,293.58H77.50M73.00,287.52H77.50M73.00,283.23H77.50M73.00,279.90H77.50M73.00,277.18H77.50M73.00,274.87H77.50M73.00,272.88H77.50M73.00,271.12H77.50M70.50,269.55H77.50M73.00,259.20H77.50M73.00,253.15H77.50M73.00,248.85H77.50M73.00,245.52H77.50M73.00,242.80H77.50M73.00,240.50H77.50M73.00,238.51H77.50M73.00,236.75H77.50M70.50,235.18H77.50M73.00,224.83H77.50M73.00,218.77H77.50M73.00,214.48H77.50M73.00,211.15H77.50M73.00,208.43H77.50M73.00,206.12H77.50M73.00,204.13H77.50M73.00,202.37H77.50M70.50,200.80H77.50M77.50,338.30V345.30M87.64,338.30V342.80M93.58,338.30V342.80M97.79,338.30V342.80M101.06,338.30V342.80M103.72,338.30V342.80M105.98,338.30V342.80M107.93,338.30V342.80M109.66,338.30V342.80M111.20,338.30V345.30M121.34,338.30V342.80M127.28,338.30V342.80M131.49,338.30V342.80M134.76,338.30V342.80M137.42,338.30V342.80M139.68,338.30V342.80M141.63,338.30V342.80M143.36,338.30V342.80M144.90,338.30V345.30M155.04,338.30V342.80M160.98,338.30V342.80M165.19,338.30V342.80M168.46,338.30V342.80M171.12,338.30V342.80M173.38,338.30V342.80M175.33,338.30V342.80M177.06,338.30V342.80M178.60,338.30V345.30M188.74,338.30V342.80M194.68,338.30V342.80M198.89,338.30V342.80M202.16,338.30V342.80M204.82,338.30V342.80M207.08,338.30V342.80M209.03,338.30V342.80M210.76,338.30V342.80M212.30,338.30V345.30" stroke="#666" stroke-width="1.05" fill="none"/>
<line x1="120.30" y1="200.80" x2="120.30" y2="338.30" stroke="#555" stroke-width="0.8"/>
<line x1="77.50" y1="294.00" x2="212.30" y2="294.00" stroke="#555" stroke-width="0.8"/>
<text transform="translate(203.51,215.20)" font-size="12.7" text-anchor="end" font-weight="normal" fill="#000" >0&#177;0</text>
<path d="M274 242h2v2h-2zM290 243h2v2h-2zM248 248h2v2h-2zM288 270h2v2h-2zM278 276h2v2h-2zM250 280h2v2h-2zM276 280h2v2h-2zM244 283h2v2h-2zM272 286h2v2h-2zM262 294h1v2h-1zM259 296h6v1h-6zM257 297h8v1h-8zM235 297h2v2h-2zM250 297h4v2h-4zM256 298h10v1h-10zM268 297h2v2h-2zM254 299h12v1h-12zM251 299h2v2h-2zM254 300h3v1h-3zM258 300h2v1h-2zM262 300h4v1h-4zM251 301h1v1h-1zM254 301h6v1h-6zM262 301h7v1h-7zM254 302h1v1h-1zM258 302h11v1h-11zM229 303h2v1h-2zM234 302h2v2h-2zM240 303h2v1h-2zM258 303h9v1h-9zM229 304h3v1h-3zM245 303h2v2h-2zM249 303h2v2h-2zM252 303h2v2h-2zM256 304h6v1h-6zM263 304h9v1h-9zM245 305h4v1h-4zM250 305h22v1h-22zM227 306h2v1h-2zM230 305h2v2h-2zM240 304h4v3h-4zM245 306h27v1h-27zM227 307h24v1h-24zM253 307h5v1h-5zM259 307h13v1h-13zM229 308h22v1h-22zM253 308h19v1h-19zM227 308h1v2h-1zM230 309h24v1h-24zM255 309h17v1h-17zM285 308h2v2h-2zM254 310h17v1h-17zM284 310h2v1h-2zM293 309h2v2h-2zM227 310h25v2h-25zM254 311h5v1h-5zM260 311h12v1h-12zM273 310h2v2h-2zM227 312h28v1h-28zM256 312h17v1h-17zM274 312h2v1h-2zM277 310h2v3h-2zM283 311h3v2h-3zM287 311h4v2h-4zM292 311h2v2h-2zM227 313h40v1h-40zM268 313h12v1h-12zM284 313h8v1h-8zM294 313h2v1h-2zM297 313h2v1h-2zM227 314h24v1h-24zM252 314h9v1h-9zM262 314h6v1h-6zM269 314h30v1h-30zM300 314h2v1h-2zM253 315h9v1h-9zM263 315h3v1h-3zM267 315h3v1h-3zM273 315h24v1h-24zM298 315h4v1h-4zM227 315h25v2h-25zM253 316h17v1h-17zM272 316h7v1h-7zM280 316h1v1h-1zM282 316h18v1h-18zM227 317h32v1h-32zM260 317h38v1h-38zM227 318h38v1h-38zM266 318h33v1h-33zM302 317h2v2h-2zM227 319h72v1h-72zM256 320h5v1h-5zM262 320h37v1h-37zM227 320h27v2h-27zM257 321h14v1h-14zM272 321h27v1h-27zM302 320h2v2h-2zM227 322h28v1h-28zM257 322h1v1h-1zM259 322h40v1h-40zM258 323h8v1h-8zM267 323h34v1h-34zM306 322h2v2h-2zM227 323h29v2h-29zM258 324h6v1h-6zM265 324h36v1h-36zM227 325h37v1h-37zM266 325h3v1h-3zM270 325h2v1h-2zM273 325h28v1h-28zM227 326h26v1h-26zM255 326h9v1h-9zM266 326h6v1h-6zM273 326h27v1h-27zM227 327h24v1h-24zM252 327h1v1h-1zM255 327h13v1h-13zM269 327h31v1h-31zM227 328h73v1h-73zM303 327h2v2h-2zM228 329h34v1h-34zM227 330h35v1h-35zM264 329h1v2h-1zM267 329h33v2h-33zM257 331h43v1h-43zM227 331h28v2h-28zM257 332h44v1h-44zM227 333h74v1h-74zM227 334h40v1h-40zM269 334h32v1h-32zM303 333h2v2h-2zM227 335h27v1h-27zM256 335h11v1h-11zM269 335h2v1h-2zM272 335h29v1h-29zM227 336h25v1h-25zM253 336h1v1h-1zM306 335h2v2h-2zM227 337h27v1h-27zM256 336h16v2h-16zM273 336h30v2h-30z" fill="#000"/>
<rect x="225.80" y="200.80" width="134.20" height="137.50" fill="none" stroke="#444" stroke-width="0.9"/>
<path d="M218.80,338.30H225.80M221.30,327.95H225.80M221.30,321.90H225.80M221.30,317.60H225.80M221.30,314.27H225.80M221.30,311.55H225.80M221.30,309.25H225.80M221.30,307.26H225.80M221.30,305.50H225.80M218.80,303.93H225.80M221.30,293.58H225.80M221.30,287.52H225.80M221.30,283.23H225.80M221.30,279.90H225.80M221.30,277.18H225.80M221.30,274.87H225.80M221.30,272.88H225.80M221.30,271.12H225.80M218.80,269.55H225.80M221.30,259.20H225.80M221.30,253.15H225.80M221.30,248.85H225.80M221.30,245.52H225.80M221.30,242.80H225.80M221.30,240.50H225.80M221.30,238.51H225.80M221.30,236.75H225.80M218.80,235.18H225.80M221.30,224.83H225.80M221.30,218.77H225.80M221.30,214.48H225.80M221.30,211.15H225.80M221.30,208.43H225.80M221.30,206.12H225.80M221.30,204.13H225.80M221.30,202.37H225.80M218.80,200.80H225.80M225.80,338.30V345.30M235.90,338.30V342.80M241.81,338.30V342.80M246.00,338.30V342.80M249.25,338.30V342.80M251.91,338.30V342.80M254.15,338.30V342.80M256.10,338.30V342.80M257.81,338.30V342.80M259.35,338.30V345.30M269.45,338.30V342.80M275.36,338.30V342.80M279.55,338.30V342.80M282.80,338.30V342.80M285.46,338.30V342.80M287.70,338.30V342.80M289.65,338.30V342.80M291.36,338.30V342.80M292.90,338.30V345.30M303.00,338.30V342.80M308.91,338.30V342.80M313.10,338.30V342.80M316.35,338.30V342.80M319.01,338.30V342.80M321.25,338.30V342.80M323.20,338.30V342.80M324.91,338.30V342.80M326.45,338.30V345.30M336.55,338.30V342.80M342.46,338.30V342.80M346.65,338.30V342.80M349.90,338.30V342.80M352.56,338.30V342.80M354.80,338.30V342.80M356.75,338.30V342.80M358.46,338.30V342.80M360.00,338.30V345.30" stroke="#666" stroke-width="1.05" fill="none"/>
<line x1="268.50" y1="200.80" x2="268.50" y2="338.30" stroke="#555" stroke-width="0.8"/>
<line x1="225.80" y1="294.00" x2="360.00" y2="294.00" stroke="#555" stroke-width="0.8"/>
<text transform="translate(352.01,216.00)" font-size="12.7" text-anchor="end" font-weight="normal" fill="#000" >0&#177;0</text>
<path d="M430 226h2v2h-2zM437 226h2v2h-2zM434 228h2v2h-2zM446 228h2v2h-2zM408 231h2v2h-2zM443 232h2v2h-2zM447 230h2v4h-2zM443 240h2v2h-2zM434 249h2v2h-2zM426 262h2v2h-2zM436 268h2v1h-2zM436 269h3v1h-3zM437 270h2v1h-2zM437 272h2v2h-2zM430 274h2v2h-2zM423 281h2v2h-2zM418 290h2v1h-2zM378 290h2v2h-2zM386 290h2v2h-2zM404 291h2v1h-2zM416 291h4v1h-4zM423 290h2v2h-2zM403 292h3v1h-3zM416 292h2v1h-2zM403 293h2v1h-2zM406 295h2v2h-2zM402 298h4v1h-4zM390 299h2v1h-2zM398 297h2v3h-2zM402 299h5v1h-5zM409 298h2v2h-2zM396 300h12v1h-12zM410 300h2v1h-2zM431 299h2v2h-2zM390 300h4v2h-4zM395 301h6v1h-6zM403 301h5v1h-5zM410 301h4v1h-4zM390 302h3v1h-3zM394 302h2v1h-2zM398 302h1v1h-1zM400 302h1v1h-1zM403 302h8v1h-8zM412 302h2v1h-2zM392 303h4v1h-4zM398 303h14v1h-14zM388 303h2v2h-2zM392 304h2v1h-2zM395 304h20v1h-20zM390 305h2v1h-2zM394 305h14v1h-14zM419 305h2v1h-2zM437 304h2v2h-2zM375 305h1v2h-1zM388 306h4v1h-4zM395 306h13v1h-13zM410 305h2v2h-2zM414 306h2v1h-2zM377 306h2v2h-2zM381 306h4v2h-4zM388 307h18v1h-18zM407 307h10v1h-10zM418 306h3v2h-3zM375 308h35v1h-35zM411 308h7v1h-7zM419 308h2v1h-2zM391 309h17v1h-17zM409 309h12v1h-12zM423 308h2v2h-2zM431 308h5v2h-5zM438 309h2v1h-2zM375 309h15v2h-15zM392 310h24v1h-24zM418 310h2v1h-2zM427 310h3v1h-3zM433 310h2v1h-2zM436 310h4v1h-4zM375 311h19v1h-19zM395 311h21v1h-21zM418 311h6v1h-6zM425 311h5v1h-5zM436 311h2v1h-2zM442 311h2v1h-2zM433 312h6v1h-6zM440 312h6v1h-6zM375 312h49v2h-49zM425 312h6v2h-6zM433 313h13v1h-13zM447 312h2v2h-2zM375 314h72v1h-72zM375 315h41v1h-41zM417 315h30v1h-30zM448 314h3v2h-3zM399 316h7v1h-7zM408 316h8v1h-8zM417 316h3v1h-3zM422 316h26v1h-26zM399 317h3v1h-3zM403 317h3v1h-3zM408 317h12v1h-12zM424 317h24v1h-24zM375 316h22v3h-22zM399 318h23v1h-23zM424 318h25v1h-25zM411 319h38v1h-38zM450 319h2v1h-2zM375 319h34v2h-34zM411 320h2v1h-2zM415 320h33v1h-33zM449 320h3v1h-3zM415 321h38v1h-38zM375 321h29v2h-29zM408 321h5v2h-5zM414 322h36v1h-36zM451 322h2v1h-2zM375 323h18v1h-18zM394 323h9v1h-9zM404 323h46v1h-46zM415 324h35v1h-35zM375 324h38v2h-38zM415 325h2v1h-2zM418 325h31v1h-31zM396 326h54v1h-54zM451 326h2v1h-2zM375 326h19v2h-19zM396 327h15v1h-15zM413 327h40v1h-40zM375 328h36v1h-36zM413 328h39v1h-39zM375 329h18v1h-18zM394 329h3v1h-3zM399 329h10v1h-10zM411 329h40v1h-40zM375 330h16v1h-16zM392 330h5v1h-5zM399 330h3v1h-3zM404 330h5v1h-5zM411 330h7v1h-7zM419 330h32v1h-32zM376 331h26v1h-26zM404 331h2v1h-2zM407 331h44v1h-44zM375 332h41v1h-41zM375 333h19v1h-19zM395 333h7v1h-7zM403 333h13v1h-13zM418 332h32v2h-32zM375 334h29v1h-29zM406 334h4v1h-4zM411 334h39v1h-39zM451 334h2v1h-2zM399 335h5v1h-5zM406 335h47v1h-47zM375 335h22v2h-22zM399 336h2v1h-2zM402 336h6v1h-6zM410 336h38v1h-38zM449 336h4v1h-4zM483 335h2v2h-2zM375 337h24v1h-24zM400 337h8v1h-8zM412 337h36v1h-36zM450 337h2v1h-2z" fill="#000"/>
<rect x="371.70" y="200.50" width="135.30" height="137.90" fill="none" stroke="#444" stroke-width="0.9"/>
<path d="M364.70,338.40H371.70M367.20,328.02H371.70M367.20,321.95H371.70M367.20,317.64H371.70M367.20,314.30H371.70M367.20,311.57H371.70M367.20,309.27H371.70M367.20,307.27H371.70M367.20,305.50H371.70M364.70,303.92H371.70M367.20,293.55H371.70M367.20,287.48H371.70M367.20,283.17H371.70M367.20,279.83H371.70M367.20,277.10H371.70M367.20,274.79H371.70M367.20,272.79H371.70M367.20,271.03H371.70M364.70,269.45H371.70M367.20,259.07H371.70M367.20,253.00H371.70M367.20,248.69H371.70M367.20,245.35H371.70M367.20,242.62H371.70M367.20,240.32H371.70M367.20,238.32H371.70M367.20,236.55H371.70M364.70,234.97H371.70M367.20,224.60H371.70M367.20,218.53H371.70M367.20,214.22H371.70M367.20,210.88H371.70M367.20,208.15H371.70M367.20,205.84H371.70M367.20,203.84H371.70M367.20,202.08H371.70M364.70,200.50H371.70M371.70,338.40V345.40M381.88,338.40V342.90M387.84,338.40V342.90M392.06,338.40V342.90M395.34,338.40V342.90M398.02,338.40V342.90M400.29,338.40V342.90M402.25,338.40V342.90M403.98,338.40V342.90M405.52,338.40V345.40M415.71,338.40V342.90M421.66,338.40V342.90M425.89,338.40V342.90M429.17,338.40V342.90M431.85,338.40V342.90M434.11,338.40V342.90M436.07,338.40V342.90M437.80,338.40V342.90M439.35,338.40V345.40M449.53,338.40V342.90M455.49,338.40V342.90M459.71,338.40V342.90M462.99,338.40V342.90M465.67,338.40V342.90M467.94,338.40V342.90M469.90,338.40V342.90M471.63,338.40V342.90M473.18,338.40V345.40M483.36,338.40V342.90M489.31,338.40V342.90M493.54,338.40V342.90M496.82,338.40V342.90M499.50,338.40V342.90M501.76,338.40V342.90M503.72,338.40V342.90M505.45,338.40V342.90M507.00,338.40V345.40" stroke="#666" stroke-width="1.05" fill="none"/>
<line x1="413.80" y1="200.50" x2="413.80" y2="338.40" stroke="#555" stroke-width="0.8"/>
<line x1="371.70" y1="296.00" x2="502.60" y2="296.00" stroke="#555" stroke-width="0.8"/>
<text transform="translate(494.31,216.00)" font-size="12.7" text-anchor="end" font-weight="normal" fill="#000" >0&#177;0</text>
<text transform="translate(0.50,413.40)" font-size="23.5" text-anchor="start" font-weight="bold" fill="#000" >B</text>
<line x1="65.00" y1="594.80" x2="69.60" y2="594.80" stroke="#1a1a1a" stroke-width="1.25"/>
<line x1="65.00" y1="558.60" x2="69.60" y2="558.60" stroke="#1a1a1a" stroke-width="1.25"/>
<line x1="65.00" y1="522.40" x2="69.60" y2="522.40" stroke="#1a1a1a" stroke-width="1.25"/>
<line x1="65.00" y1="486.20" x2="69.60" y2="486.20" stroke="#1a1a1a" stroke-width="1.25"/>
<line x1="65.00" y1="450.00" x2="69.60" y2="450.00" stroke="#1a1a1a" stroke-width="1.25"/>
<line x1="69.60" y1="449.40" x2="69.60" y2="594.80" stroke="#1a1a1a" stroke-width="1.25"/>
<line x1="65.00" y1="594.80" x2="207.70" y2="594.80" stroke="#1a1a1a" stroke-width="1.25"/>
<text transform="translate(63.32,598.86)" font-size="11.6" text-anchor="end" font-weight="normal" fill="#000" >0.0</text>
<text transform="translate(63.32,562.66)" font-size="11.6" text-anchor="end" font-weight="normal" fill="#000" >2.5</text>
<text transform="translate(63.32,526.46)" font-size="11.6" text-anchor="end" font-weight="normal" fill="#000" >5.0</text>
<text transform="translate(63.32,490.26)" font-size="11.6" text-anchor="end" font-weight="normal" fill="#000" >7.5</text>
<text transform="translate(63.32,454.06)" font-size="11.6" text-anchor="end" font-weight="normal" fill="#000" >10.0</text>
<line x1="92.50" y1="553.90" x2="92.50" y2="544.50" stroke="#1a1a1a" stroke-width="1.25"/>
<line x1="84.80" y1="544.50" x2="100.20" y2="544.50" stroke="#1a1a1a" stroke-width="1.25"/>
<rect x="77.92" y="553.90" width="29.15" height="40.90" fill="#fff" stroke="#1a1a1a" stroke-width="1.25"/>
<line x1="92.50" y1="594.80" x2="92.50" y2="599.60" stroke="#1a1a1a" stroke-width="1.25"/>
<text transform="translate(102.70,609.00) rotate(-45)" font-size="12.8" text-anchor="end" font-weight="normal" fill="#000" >B6-B6</text>
<line x1="137.30" y1="591.80" x2="137.30" y2="590.30" stroke="#8a8a8a" stroke-width="1.25"/>
<line x1="130.00" y1="590.30" x2="146.00" y2="590.30" stroke="#8a8a8a" stroke-width="1.25"/>
<rect x="123.12" y="591.80" width="28.35" height="3.00" fill="#b0b0b0" stroke="#8a8a8a" stroke-width="1.25"/>
<line x1="137.30" y1="594.80" x2="137.30" y2="599.60" stroke="#1a1a1a" stroke-width="1.25"/>
<text transform="translate(147.50,609.20) rotate(-45)" font-size="12.8" text-anchor="end" font-weight="normal" fill="#000" >T2-T2</text>
<line x1="184.30" y1="556.30" x2="184.30" y2="546.90" stroke="#1a1a1a" stroke-width="1.25"/>
<line x1="175.80" y1="546.90" x2="192.50" y2="546.90" stroke="#1a1a1a" stroke-width="1.25"/>
<rect x="169.43" y="556.30" width="29.75" height="38.50" fill="#333" stroke="#1a1a1a" stroke-width="1.25"/>
<line x1="184.30" y1="594.80" x2="184.30" y2="599.60" stroke="#1a1a1a" stroke-width="1.25"/>
<text transform="translate(192.40,610.50) rotate(-45)" font-size="12.8" text-anchor="end" font-weight="normal" fill="#000" >B6-T2</text>
<path d="M93.40,539.00V530.20H135.20V550.40" fill="none" stroke="#333" stroke-width="1.05"/>
<path d="M141.40,586.70V538.30H181.70V542.30" fill="none" stroke="#333" stroke-width="1.05"/>
<text transform="translate(112.40,526.88)" font-size="12" text-anchor="middle" font-weight="normal" fill="#000" >**</text>
<text transform="translate(163.10,535.68)" font-size="12" text-anchor="middle" font-weight="normal" fill="#000" >*</text>
<text transform="translate(141.60,429.80)" font-size="17.0" text-anchor="middle" font-weight="normal" fill="#000" >Blood</text>
<line x1="217.00" y1="594.90" x2="221.60" y2="594.90" stroke="#1a1a1a" stroke-width="1.25"/>
<line x1="217.00" y1="558.55" x2="221.60" y2="558.55" stroke="#1a1a1a" stroke-width="1.25"/>
<line x1="217.00" y1="522.20" x2="221.60" y2="522.20" stroke="#1a1a1a" stroke-width="1.25"/>
<line x1="217.00" y1="485.85" x2="221.60" y2="485.85" stroke="#1a1a1a" stroke-width="1.25"/>
<line x1="217.00" y1="449.50" x2="221.60" y2="449.50" stroke="#1a1a1a" stroke-width="1.25"/>
<line x1="221.60" y1="448.90" x2="221.60" y2="594.90" stroke="#1a1a1a" stroke-width="1.25"/>
<line x1="217.20" y1="594.90" x2="360.00" y2="594.90" stroke="#1a1a1a" stroke-width="1.25"/>
<line x1="244.50" y1="517.70" x2="244.50" y2="504.20" stroke="#1a1a1a" stroke-width="1.25"/>
<line x1="236.80" y1="504.20" x2="252.20" y2="504.20" stroke="#1a1a1a" stroke-width="1.25"/>
<rect x="229.93" y="517.70" width="29.15" height="77.20" fill="#fff" stroke="#1a1a1a" stroke-width="1.25"/>
<line x1="244.50" y1="594.90" x2="244.50" y2="599.70" stroke="#1a1a1a" stroke-width="1.25"/>
<text transform="translate(252.20,608.70) rotate(-45)" font-size="12.8" text-anchor="end" font-weight="normal" fill="#000" >B6-B6</text>
<line x1="290.65" y1="584.40" x2="290.65" y2="580.40" stroke="#1a1a1a" stroke-width="1.25"/>
<line x1="282.60" y1="580.40" x2="298.70" y2="580.40" stroke="#1a1a1a" stroke-width="1.25"/>
<rect x="275.62" y="584.40" width="30.05" height="10.50" fill="#a9a9a9" stroke="#1a1a1a" stroke-width="1.25"/>
<line x1="290.65" y1="594.90" x2="290.65" y2="599.70" stroke="#1a1a1a" stroke-width="1.25"/>
<text transform="translate(298.40,609.30) rotate(-45)" font-size="12.8" text-anchor="end" font-weight="normal" fill="#000" >T2-T2</text>
<line x1="337.10" y1="528.70" x2="337.10" y2="509.80" stroke="#1a1a1a" stroke-width="1.25"/>
<line x1="328.90" y1="509.80" x2="344.50" y2="509.80" stroke="#1a1a1a" stroke-width="1.25"/>
<rect x="322.23" y="528.70" width="29.75" height="66.20" fill="#333" stroke="#1a1a1a" stroke-width="1.25"/>
<line x1="337.10" y1="594.90" x2="337.10" y2="599.70" stroke="#1a1a1a" stroke-width="1.25"/>
<text transform="translate(346.60,609.30) rotate(-45)" font-size="12.8" text-anchor="end" font-weight="normal" fill="#000" >B6-T2</text>
<path d="M246.80,501.00V496.10H284.70V548.10" fill="none" stroke="#333" stroke-width="1.05"/>
<path d="M296.90,569.60V504.20H333.70V507.70" fill="none" stroke="#333" stroke-width="1.05"/>
<text transform="translate(266.40,488.88)" font-size="12" text-anchor="middle" font-weight="normal" fill="#000" >**</text>
<text transform="translate(319.50,500.38)" font-size="12" text-anchor="middle" font-weight="normal" fill="#000" >*</text>
<text transform="translate(296.90,429.40)" font-size="17.0" text-anchor="middle" font-weight="normal" fill="#000" >Spleen</text>
<line x1="370.20" y1="595.80" x2="374.80" y2="595.80" stroke="#1a1a1a" stroke-width="1.25"/>
<line x1="370.20" y1="560.55" x2="374.80" y2="560.55" stroke="#1a1a1a" stroke-width="1.25"/>
<line x1="370.20" y1="525.30" x2="374.80" y2="525.30" stroke="#1a1a1a" stroke-width="1.25"/>
<line x1="370.20" y1="490.05" x2="374.80" y2="490.05" stroke="#1a1a1a" stroke-width="1.25"/>
<line x1="370.20" y1="454.80" x2="374.80" y2="454.80" stroke="#1a1a1a" stroke-width="1.25"/>
<line x1="374.80" y1="454.20" x2="374.80" y2="595.80" stroke="#1a1a1a" stroke-width="1.25"/>
<line x1="370.80" y1="595.80" x2="509.30" y2="595.80" stroke="#1a1a1a" stroke-width="1.25"/>
<line x1="397.30" y1="525.20" x2="397.30" y2="509.60" stroke="#1a1a1a" stroke-width="1.25"/>
<line x1="390.00" y1="509.60" x2="404.80" y2="509.60" stroke="#1a1a1a" stroke-width="1.25"/>
<rect x="382.82" y="525.20" width="28.95" height="70.60" fill="#fff" stroke="#1a1a1a" stroke-width="1.25"/>
<line x1="397.30" y1="595.80" x2="397.30" y2="600.60" stroke="#1a1a1a" stroke-width="1.25"/>
<text transform="translate(408.10,609.30) rotate(-45)" font-size="12.8" text-anchor="end" font-weight="normal" fill="#000" >B6-B6</text>
<line x1="441.75" y1="588.50" x2="441.75" y2="586.30" stroke="#1a1a1a" stroke-width="1.25"/>
<line x1="434.00" y1="586.30" x2="449.50" y2="586.30" stroke="#1a1a1a" stroke-width="1.25"/>
<rect x="427.32" y="588.50" width="28.85" height="7.30" fill="#a9a9a9" stroke="#1a1a1a" stroke-width="1.25"/>
<line x1="441.75" y1="595.80" x2="441.75" y2="600.60" stroke="#1a1a1a" stroke-width="1.25"/>
<text transform="translate(453.40,610.20) rotate(-45)" font-size="12.8" text-anchor="end" font-weight="normal" fill="#000" >T2-T2</text>
<line x1="486.40" y1="515.00" x2="486.40" y2="492.90" stroke="#1a1a1a" stroke-width="1.25"/>
<line x1="478.90" y1="492.90" x2="494.50" y2="492.90" stroke="#1a1a1a" stroke-width="1.25"/>
<rect x="472.23" y="515.00" width="28.35" height="80.80" fill="#333" stroke="#1a1a1a" stroke-width="1.25"/>
<line x1="486.40" y1="595.80" x2="486.40" y2="600.60" stroke="#1a1a1a" stroke-width="1.25"/>
<text transform="translate(498.10,609.30) rotate(-45)" font-size="12.8" text-anchor="end" font-weight="normal" fill="#000" >B6-T2</text>
<path d="M400.80,503.70V498.30H437.40V531.90" fill="none" stroke="#333" stroke-width="1.05"/>
<path d="M447.40,571.80V486.20H485.60V489.40" fill="none" stroke="#333" stroke-width="1.05"/>
<text transform="translate(423.20,499.58)" font-size="12" text-anchor="middle" font-weight="normal" fill="#000" >**</text>
<text transform="translate(460.90,487.48)" font-size="12" text-anchor="middle" font-weight="normal" fill="#000" >*</text>
<text transform="translate(442.50,430.00)" font-size="17.0" text-anchor="middle" font-weight="normal" fill="#000" >Liver</text>
<text transform="translate(20.30,522.50) rotate(-90)" font-size="17" text-anchor="middle" font-weight="normal" fill="#000" >% Thy1.1 Vbeta7+</text>
<text transform="translate(39.60,524.50) rotate(-90)" font-size="17" text-anchor="middle" font-weight="normal" fill="#000" >CD8 T cells</text>
<text transform="translate(0.30,680.60)" font-size="23.5" text-anchor="start" font-weight="bold" fill="#000" >C</text>
<line x1="65.80" y1="843.90" x2="70.40" y2="843.90" stroke="#1a1a1a" stroke-width="1.25"/>
<line x1="65.80" y1="808.23" x2="70.40" y2="808.23" stroke="#1a1a1a" stroke-width="1.25"/>
<line x1="65.80" y1="772.55" x2="70.40" y2="772.55" stroke="#1a1a1a" stroke-width="1.25"/>
<line x1="65.80" y1="736.88" x2="70.40" y2="736.88" stroke="#1a1a1a" stroke-width="1.25"/>
<line x1="65.80" y1="701.20" x2="70.40" y2="701.20" stroke="#1a1a1a" stroke-width="1.25"/>
<line x1="70.40" y1="700.60" x2="70.40" y2="843.90" stroke="#1a1a1a" stroke-width="1.25"/>
<line x1="65.40" y1="843.90" x2="213.10" y2="843.90" stroke="#1a1a1a" stroke-width="1.25"/>
<text transform="translate(62.85,848.20)" font-size="12.3" text-anchor="end" font-weight="normal" fill="#000" >0.0</text>
<text transform="translate(62.85,812.53)" font-size="12.3" text-anchor="end" font-weight="normal" fill="#000" >0.5</text>
<text transform="translate(62.85,776.85)" font-size="12.3" text-anchor="end" font-weight="normal" fill="#000" >1.0</text>
<text transform="translate(62.85,741.18)" font-size="12.3" text-anchor="end" font-weight="normal" fill="#000" >1.5</text>
<text transform="translate(62.85,705.50)" font-size="12.3" text-anchor="end" font-weight="normal" fill="#000" >2.0</text>
<line x1="93.65" y1="766.80" x2="93.65" y2="757.10" stroke="#1a1a1a" stroke-width="1.25"/>
<line x1="85.30" y1="757.10" x2="102.30" y2="757.10" stroke="#1a1a1a" stroke-width="1.25"/>
<rect x="78.12" y="766.80" width="31.05" height="77.10" fill="#fff" stroke="#1a1a1a" stroke-width="1.25"/>
<line x1="93.65" y1="843.90" x2="93.65" y2="848.70" stroke="#1a1a1a" stroke-width="1.25"/>
<text transform="translate(107.10,858.60) rotate(-45)" font-size="12.8" text-anchor="end" font-weight="normal" fill="#000" >B6-B6</text>
<line x1="141.35" y1="837.30" x2="141.35" y2="836.50" stroke="#1a1a1a" stroke-width="1.25"/>
<line x1="133.00" y1="836.50" x2="150.00" y2="836.50" stroke="#1a1a1a" stroke-width="1.25"/>
<rect x="125.83" y="837.30" width="31.05" height="6.60" fill="#a9a9a9" stroke="#1a1a1a" stroke-width="1.25"/>
<line x1="141.35" y1="843.90" x2="141.35" y2="848.70" stroke="#1a1a1a" stroke-width="1.25"/>
<text transform="translate(152.20,858.70) rotate(-45)" font-size="12.8" text-anchor="end" font-weight="normal" fill="#000" >T2-T2</text>
<line x1="188.85" y1="785.40" x2="188.85" y2="778.90" stroke="#1a1a1a" stroke-width="1.25"/>
<line x1="180.40" y1="778.90" x2="197.10" y2="778.90" stroke="#1a1a1a" stroke-width="1.25"/>
<rect x="173.72" y="785.40" width="30.25" height="58.50" fill="#333" stroke="#1a1a1a" stroke-width="1.25"/>
<line x1="188.85" y1="843.90" x2="188.85" y2="848.70" stroke="#1a1a1a" stroke-width="1.25"/>
<text transform="translate(199.50,858.70) rotate(-45)" font-size="12.8" text-anchor="end" font-weight="normal" fill="#000" >B6-T2</text>
<path d="M93.70,724.20V719.70H139.50V787.50" fill="none" stroke="#333" stroke-width="1.05"/>
<path d="M150.20,787.50V745.80H183.10V751.20" fill="none" stroke="#333" stroke-width="1.05"/>
<text transform="translate(107.70,722.38)" font-size="12" text-anchor="middle" font-weight="normal" fill="#000" >*</text>
<text transform="translate(165.60,746.58)" font-size="12" text-anchor="middle" font-weight="normal" fill="#000" >**</text>
<text transform="translate(137.50,684.40)" font-size="17.0" text-anchor="middle" font-weight="normal" fill="#000" >Blood</text>
<line x1="217.90" y1="842.50" x2="222.50" y2="842.50" stroke="#1a1a1a" stroke-width="1.25"/>
<line x1="217.90" y1="806.75" x2="222.50" y2="806.75" stroke="#1a1a1a" stroke-width="1.25"/>
<line x1="217.90" y1="771.00" x2="222.50" y2="771.00" stroke="#1a1a1a" stroke-width="1.25"/>
<line x1="217.90" y1="735.25" x2="222.50" y2="735.25" stroke="#1a1a1a" stroke-width="1.25"/>
<line x1="217.90" y1="699.50" x2="222.50" y2="699.50" stroke="#1a1a1a" stroke-width="1.25"/>
<line x1="222.50" y1="698.90" x2="222.50" y2="842.50" stroke="#1a1a1a" stroke-width="1.25"/>
<line x1="218.00" y1="842.50" x2="364.40" y2="842.50" stroke="#1a1a1a" stroke-width="1.25"/>
<line x1="247.10" y1="767.00" x2="247.10" y2="753.50" stroke="#1a1a1a" stroke-width="1.25"/>
<line x1="238.80" y1="753.50" x2="254.70" y2="753.50" stroke="#1a1a1a" stroke-width="1.25"/>
<rect x="231.82" y="767.00" width="30.55" height="75.50" fill="#fff" stroke="#1a1a1a" stroke-width="1.25"/>
<line x1="247.10" y1="842.50" x2="247.10" y2="847.30" stroke="#1a1a1a" stroke-width="1.25"/>
<text transform="translate(256.60,858.90) rotate(-45)" font-size="12.8" text-anchor="end" font-weight="normal" fill="#000" >B6-B6</text>
<line x1="294.30" y1="834.50" x2="294.30" y2="832.10" stroke="#1a1a1a" stroke-width="1.25"/>
<line x1="286.50" y1="832.10" x2="303.10" y2="832.10" stroke="#1a1a1a" stroke-width="1.25"/>
<rect x="279.23" y="834.50" width="30.15" height="8.00" fill="#a9a9a9" stroke="#1a1a1a" stroke-width="1.25"/>
<line x1="294.30" y1="842.50" x2="294.30" y2="847.30" stroke="#1a1a1a" stroke-width="1.25"/>
<text transform="translate(304.30,859.60) rotate(-45)" font-size="12.8" text-anchor="end" font-weight="normal" fill="#000" >T2-T2</text>
<line x1="342.05" y1="786.00" x2="342.05" y2="777.80" stroke="#1a1a1a" stroke-width="1.25"/>
<line x1="334.30" y1="777.80" x2="349.50" y2="777.80" stroke="#1a1a1a" stroke-width="1.25"/>
<rect x="326.93" y="786.00" width="30.25" height="56.50" fill="#333" stroke="#1a1a1a" stroke-width="1.25"/>
<line x1="342.05" y1="842.50" x2="342.05" y2="847.30" stroke="#1a1a1a" stroke-width="1.25"/>
<text transform="translate(351.80,859.60) rotate(-45)" font-size="12.8" text-anchor="end" font-weight="normal" fill="#000" >B6-T2</text>
<path d="M248.50,734.20V726.50H291.70V758.40" fill="none" stroke="#333" stroke-width="1.05"/>
<path d="M301.40,768.00V749.00H340.90V754.20" fill="none" stroke="#333" stroke-width="1.05"/>
<text transform="translate(261.60,728.58)" font-size="12" text-anchor="middle" font-weight="normal" fill="#000" >*</text>
<text transform="translate(325.60,749.98)" font-size="12" text-anchor="middle" font-weight="normal" fill="#000" >*</text>
<text transform="translate(291.80,682.20)" font-size="17.0" text-anchor="middle" font-weight="normal" fill="#000" >Spleen</text>
<line x1="372.50" y1="841.70" x2="377.10" y2="841.70" stroke="#1a1a1a" stroke-width="1.25"/>
<line x1="372.50" y1="805.98" x2="377.10" y2="805.98" stroke="#1a1a1a" stroke-width="1.25"/>
<line x1="372.50" y1="770.25" x2="377.10" y2="770.25" stroke="#1a1a1a" stroke-width="1.25"/>
<line x1="372.50" y1="734.52" x2="377.10" y2="734.52" stroke="#1a1a1a" stroke-width="1.25"/>
<line x1="372.50" y1="698.80" x2="377.10" y2="698.80" stroke="#1a1a1a" stroke-width="1.25"/>
<line x1="377.10" y1="698.20" x2="377.10" y2="841.70" stroke="#1a1a1a" stroke-width="1.25"/>
<line x1="372.90" y1="841.70" x2="518.00" y2="841.70" stroke="#1a1a1a" stroke-width="1.25"/>
<line x1="399.85" y1="734.80" x2="399.85" y2="714.20" stroke="#1a1a1a" stroke-width="1.25"/>
<line x1="391.80" y1="714.20" x2="408.20" y2="714.20" stroke="#1a1a1a" stroke-width="1.25"/>
<rect x="384.32" y="734.80" width="31.05" height="106.90" fill="#fff" stroke="#1a1a1a" stroke-width="1.25"/>
<line x1="399.85" y1="841.70" x2="399.85" y2="846.50" stroke="#1a1a1a" stroke-width="1.25"/>
<text transform="translate(412.70,859.40) rotate(-45)" font-size="12.8" text-anchor="end" font-weight="normal" fill="#000" >B6-B6</text>
<line x1="447.25" y1="834.50" x2="447.25" y2="831.90" stroke="#1a1a1a" stroke-width="1.25"/>
<line x1="438.90" y1="831.90" x2="455.60" y2="831.90" stroke="#1a1a1a" stroke-width="1.25"/>
<rect x="431.73" y="834.50" width="31.05" height="7.20" fill="#a9a9a9" stroke="#1a1a1a" stroke-width="1.25"/>
<line x1="447.25" y1="841.70" x2="447.25" y2="846.50" stroke="#1a1a1a" stroke-width="1.25"/>
<text transform="translate(458.40,860.10) rotate(-45)" font-size="12.8" text-anchor="end" font-weight="normal" fill="#000" >T2-T2</text>
<line x1="495.15" y1="791.00" x2="495.15" y2="783.80" stroke="#1a1a1a" stroke-width="1.25"/>
<line x1="486.60" y1="783.80" x2="503.00" y2="783.80" stroke="#1a1a1a" stroke-width="1.25"/>
<rect x="479.73" y="791.00" width="30.85" height="50.70" fill="#333" stroke="#1a1a1a" stroke-width="1.25"/>
<line x1="495.15" y1="841.70" x2="495.15" y2="846.50" stroke="#1a1a1a" stroke-width="1.25"/>
<text transform="translate(504.80,860.10) rotate(-45)" font-size="12.8" text-anchor="end" font-weight="normal" fill="#000" >B6-T2</text>
<path d="M401.70,712.60V706.40H440.20V783.20" fill="none" stroke="#333" stroke-width="1.05"/>
<path d="M450.00,787.80V768.50H497.10V772.40" fill="none" stroke="#333" stroke-width="1.05"/>
<text transform="translate(414.40,708.98)" font-size="12" text-anchor="middle" font-weight="normal" fill="#000" >*</text>
<text transform="translate(473.60,770.38)" font-size="12" text-anchor="middle" font-weight="normal" fill="#000" >*</text>
<text transform="translate(444.80,681.80)" font-size="17.0" text-anchor="middle" font-weight="normal" fill="#000" >Liver</text>
<text transform="translate(20.80,766.50) rotate(-90)" font-size="17" text-anchor="middle" font-weight="normal" fill="#000" >% Thy1.1 Vbeta7+</text>
<text transform="translate(40.00,768.80) rotate(-90)" font-size="17" text-anchor="middle" font-weight="normal" fill="#000" >CD8 T cells</text>
</svg></body></html>
